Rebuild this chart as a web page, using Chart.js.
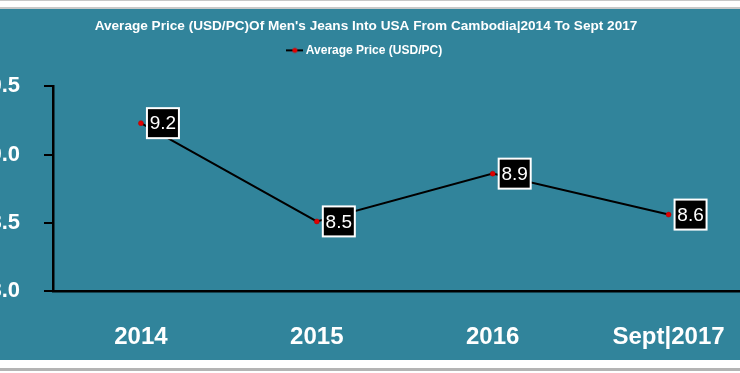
<!DOCTYPE html>
<html>
<head>
<meta charset="utf-8">
<script src="https://cdn.jsdelivr.net/npm/chart.js@4.4.1/dist/chart.umd.min.js"></script>
<style>
  html, body { margin: 0; padding: 0; background: #ffffff; overflow: hidden; }
  body { width: 740px; height: 373px; position: relative; }
  .line-top { position: absolute; left: 0; top: 0; width: 740px; height: 1px; background: #c8c8c8; }
  .line-mid { position: absolute; left: 0; top: 7px; width: 740px; height: 2px; background: #c8c8c8; }
  .line-bot { position: absolute; left: 0; top: 368px; width: 740px; height: 3px; background: #b4b4b4; }
  #box { position: absolute; left: -29px; top: 9px; width: 790px; height: 351px; background: #31849b; }
</style>
</head>
<body>
<div class="line-top"></div>
<div class="line-mid"></div>
<div id="box"><canvas id="priceChart"></canvas></div>
<div class="line-bot"></div>
<script>
// Data dari gambar
var years = ["2014", "2015", "2016", "Sept|2017"];
var avgPrice = [9.23, 8.51, 8.86, 8.56];
var yTicks = [8.0, 8.5, 9.0, 9.5];

var sans = "'Liberation Sans', Arial, sans-serif";

// ikon legenda: garis hitam dengan titik merah
var legendIcon = document.createElement("canvas");
legendIcon.width = 17;
legendIcon.height = 8;
var ic = legendIcon.getContext("2d");
ic.strokeStyle = "#000";
ic.lineWidth = 2;
ic.beginPath();
ic.moveTo(0, 4);
ic.lineTo(17, 4);
ic.stroke();
ic.fillStyle = "#e00000";
ic.beginPath();
ic.arc(8.5, 4, 2.5, 0, Math.PI * 2);
ic.fill();

// label nilai dalam kotak hitam
var valueBoxes = {
  id: "valueBoxes",
  afterDatasetsDraw: function (chart) {
    var ctx = chart.ctx;
    var meta = chart.getDatasetMeta(0);
    ctx.save();
    ctx.font = "19px " + sans;
    ctx.textAlign = "center";
    ctx.textBaseline = "middle";
    meta.data.forEach(function (pt, i) {
      var bx = pt.x + 6, by = pt.y - 15, bw = 32, bh = 30;
      ctx.fillStyle = "#000";
      ctx.fillRect(bx, by, bw, bh);
      ctx.strokeStyle = "#fff";
      ctx.lineWidth = 2;
      ctx.strokeRect(bx, by, bw, bh);
      ctx.fillStyle = "#fff";
      ctx.fillText(avgPrice[i].toFixed(1), bx + bw / 2, by + bh / 2 + 1);
    });
    ctx.restore();
  },
};

var ctx1 = document.getElementById("priceChart").getContext("2d");
var priceChart = new Chart(ctx1, {
  type: "line",
  data: {
    labels: years,
    datasets: [
      {
        label: "Average Price (USD/PC)",
        data: avgPrice,
        borderColor: "#000",
        borderWidth: 2,
        pointBackgroundColor: "#e00000",
        pointBorderColor: "#b00000",
        pointBorderWidth: 0.5,
        pointRadius: 2.5,
        tension: 0,
      },
    ],
  },
  options: {
    responsive: true,
    maintainAspectRatio: false,
    animation: false,
    layout: { padding: 0 },
    plugins: {
      title: {
        display: true,
        text: "Average Price (USD/PC)Of Men's Jeans Into USA From Cambodia|2014 To Sept 2017",
        color: "#fff",
        font: { family: sans, size: 13.6, weight: "bold" },
        padding: { top: 9, bottom: 2 },
      },
      // subtitle kosong sebagai jarak di bawah legenda
      subtitle: {
        display: true,
        text: "",
        weight: 500,
        font: { size: 20, lineHeight: 1 },
        padding: 0,
      },
      legend: {
        display: true,
        labels: {
          color: "#fff",
          font: { family: sans, size: 12, weight: "bold" },
          usePointStyle: true,
          pointStyleWidth: 10,
          padding: 8,
          generateLabels: function (chart) {
            return [
              {
                text: chart.data.datasets[0].label,
                pointStyle: legendIcon,
                fontColor: "#fff",
                datasetIndex: 0,
                lineWidth: 0,
              },
            ];
          },
        },
      },
      tooltip: { enabled: false },
    },
    scales: {
      x: {
        offset: true,
        grid: { display: false },
        border: { display: true, color: "#000", width: 2.5 },
        ticks: {
          color: "#fff",
          padding: 24,
          font: { family: sans, size: 24, weight: "bold" },
        },
        afterFit: function (scale) {
          scale.height = 69;
        },
      },
      y: {
        min: 8,
        max: 9.5,
        afterBuildTicks: function (scale) {
          scale.ticks = yTicks.map(function (v) { return { value: v }; });
        },
        grid: {
          drawOnChartArea: false,
          drawTicks: true,
          tickLength: 9,
          color: "#000",
          lineWidth: 2,
        },
        border: { display: true, color: "#000", width: 2.5 },
        ticks: {
          color: "#fff",
          padding: 24,
          font: { family: sans, size: 22, weight: "bold" },
          callback: function (v) { return Number(v).toFixed(1); },
        },
        afterFit: function (scale) {
          scale.width = 82;
        },
      },
    },
  },
  plugins: [valueBoxes],
});
</script>
</body>
</html>
